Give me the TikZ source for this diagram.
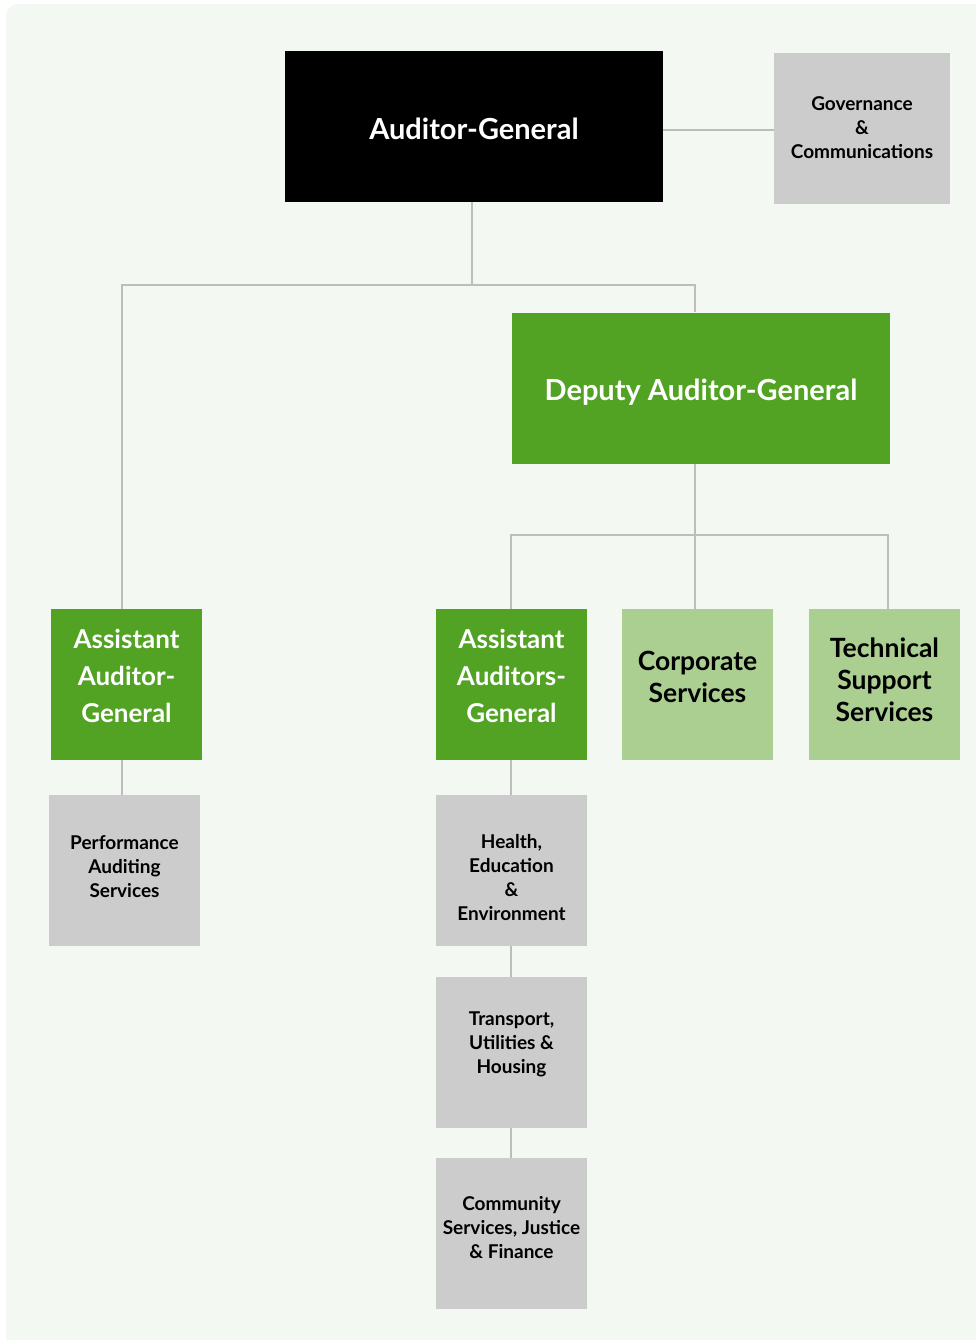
\documentclass[tikz,border=0pt]{standalone}
\usepackage{fontspec}
\setmainfont{Lato}
\definecolor{bgc}{HTML}{F4F8F3}
\definecolor{dgreen}{HTML}{52A324}
\definecolor{lgreen}{HTML}{AACF90}
\definecolor{boxgray}{HTML}{CCCCCC}
\definecolor{linegray}{HTML}{BDBDBD}
\begin{document}
\begin{tikzpicture}[x=1pt,y=-1pt,
  boxbase/.style={minimum height=151pt, inner sep=0pt},
  blackbox/.style={boxbase, fill=black, minimum width=378pt},
  dgbig/.style={boxbase, fill=dgreen, minimum width=378pt},
  dgsmall/.style={boxbase, fill=dgreen, minimum width=151pt},
  lgsmall/.style={boxbase, fill=lgreen, minimum width=151pt},
  graybox/.style={boxbase, fill=boxgray, minimum width=151pt},
  bigtxt/.style={text=white, align=center, inner sep=0pt, font=\fontsize{29}{34}\selectfont\bfseries},
  wtxt/.style={text=white, align=center, inner sep=0pt, font=\fontsize{26}{37}\selectfont\bfseries},
  btxt/.style={text=black, align=center, inner sep=0pt, font=\fontsize{26.5}{32}\selectfont\bfseries},
  gtxt/.style={text=black, align=center, inner sep=0pt, font=\fontsize{19}{24}\selectfont\bfseries},
  conn/.style={draw=linegray, line width=2.5pt}
]
\useasboundingbox (0,0) rectangle (976,1340);
\fill[white] (0,0) rectangle (976,1340);
\fill[bgc, rounded corners=12pt] (6,4) rectangle (990,1352);

\node[blackbox, label={[bigtxt, yshift=-2pt]center:Auditor-General}] (ag) at (474,126.5) {};
\node[graybox, minimum width=176pt, label={[gtxt, yshift=1pt]center:{Governance\\\&\\Communications}}] (gov) at (862,128.5) {};
\node[dgbig, label={[bigtxt, yshift=-4pt]center:Deputy Auditor-General}] (dag) at (701,388) {};
\node[dgsmall, label={[wtxt, yshift=8.5pt]center:{Assistant\\Auditor-\\General}}] (aag) at (126.5,684.5) {};
\node[dgsmall, label={[wtxt, yshift=8.5pt]center:{Assistant\\Auditors-\\General}}] (aags) at (511.5,684.5) {};
\node[lgsmall, label={[btxt, yshift=7.5pt]center:{Corporate\\Services}}] (corp) at (697.5,684.5) {};
\node[lgsmall, label={[btxt, yshift=5pt]center:{Technical\\Support\\Services}}] (tech) at (884.5,684.5) {};
\node[graybox, label={[gtxt, yshift=4pt]center:{Performance\\Auditing\\Services}}] (perf) at (124.5,870.5) {};
\node[graybox, label={[gtxt, yshift=-7pt]center:{Health,\\Education\\\&\\Environment}}] (hee) at (511.5,870.5) {};
\node[graybox, label={[gtxt, yshift=8.5pt]center:{Transport,\\Utilities \&\\Housing}}] (tuh) at (511.5,1052.5) {};
\node[graybox, label={[gtxt, yshift=5.5pt]center:{Community\\Services, Justice\\\& Finance}}] (csjf) at (511.5,1233.5) {};

\coordinate (j1) at (472,285);
\coordinate (jl) at (122,285);
\coordinate (jr) at (695,285);
\coordinate (j2) at (695,535);
\coordinate (j2l) at (511,535);
\coordinate (j2r) at (888,535);

\draw[conn] (ag.east |- 0,130) -- (gov.west |- 0,130);
\draw[conn] (ag.south -| j1) -- (j1);
\draw[conn] (jl |- aag.north) -- (jl) -- (jr) -- (jr |- dag.north);
\draw[conn] (dag.south -| j2) -- (j2);
\draw[conn] (j2l |- aags.north) -- (j2l) -- (j2r) -- (j2r |- tech.north);
\draw[conn] (j2) -- (j2 |- corp.north);
\draw[conn] (aag.south -| jl) -- (perf.north -| jl);
\draw[conn] (aags.south -| j2l) -- (hee.north -| j2l);
\draw[conn] (hee.south -| j2l) -- (tuh.north -| j2l);
\draw[conn] (tuh.south -| j2l) -- (csjf.north -| j2l);
\end{tikzpicture}
\end{document}
